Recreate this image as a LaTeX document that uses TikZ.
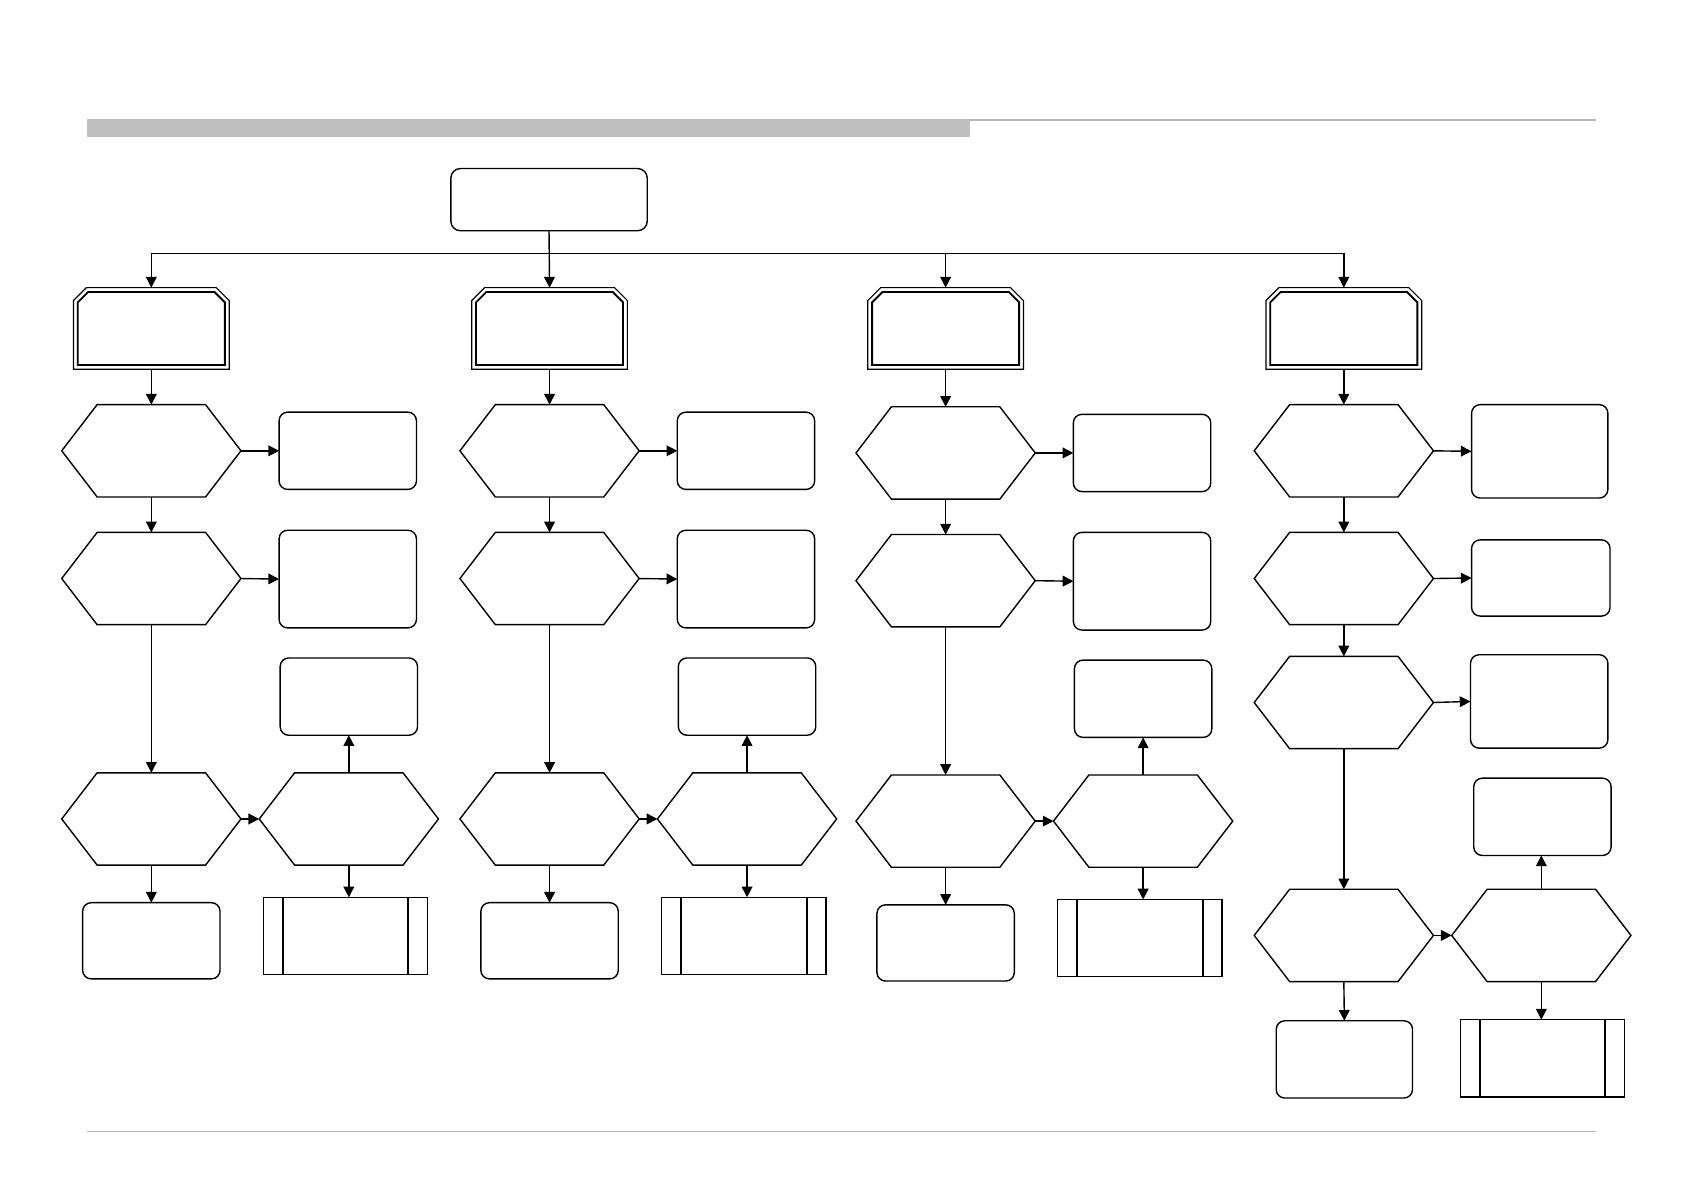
\documentclass[tikz,border=0pt]{standalone}
\usetikzlibrary{arrows.meta,calc}
\definecolor{bargray}{HTML}{C0C0C0}
\definecolor{rulegray}{HTML}{B8B8B8}
\tikzset{
 x=1pt, y=-1pt,
 base/.style={draw=none, inner sep=0pt, outer sep=0pt, shape=rectangle},
 ln/.style={line width=1.3pt, line join=miter},
 arr/.style={line width=1.3pt, -{Triangle[length=10pt,width=10pt]}},
 rbox/.style={draw, line width=1.3pt, rounded corners=8pt, inner sep=0pt, outer sep=0pt, minimum width=128pt, minimum height=72pt},
 ppbox/.style={draw, line width=1.2pt, inner sep=0pt, outer sep=0pt, minimum width=153pt, minimum height=72pt},
 ppline/.style={line width=1.8pt},
 octouter/.style={line width=1.1pt, line join=miter},
 octinner/.style={line width=1.7pt, line join=miter},
}
\newcommand\hexat[3]{%
 \node[base, minimum width=167pt, minimum height=86pt] (#1) at (#2,#3) {};
 \draw[ln] (#1.west) -- ([xshift=33pt]#1.north west) -- ([xshift=-33pt]#1.north east) -- (#1.east) -- ([xshift=-33pt]#1.south east) -- ([xshift=33pt]#1.south west) -- cycle;}
\newcommand\octat[3]{%
 \node[base, minimum width=145pt, minimum height=76pt] (#1) at (#2,#3) {};
 \draw[octouter] (#1.south west) -- ([yshift=-12pt]#1.north west) -- ([xshift=12pt]#1.north west) -- ([xshift=-12pt]#1.north east) -- ([yshift=-12pt]#1.north east) -- (#1.south east) -- cycle;
 \draw[octinner] ([shift={(4pt,4pt)}]#1.south west) -- ([shift={(4pt,-13.7pt)}]#1.north west) -- ([shift={(13.7pt,-4pt)}]#1.north west) -- ([shift={(-13.7pt,-4pt)}]#1.north east) -- ([shift={(-4pt,-13.7pt)}]#1.north east) -- ([shift={(-4pt,4pt)}]#1.south east) -- cycle;}
\newcommand\ppat[3]{%
 \node[ppbox] (#1) at (#2,#3) {};
 \draw[ppline] ([xshift=18pt]#1.north west) -- ([xshift=18pt]#1.south west);
 \draw[ppline] ([xshift=-18pt]#1.north east) -- ([xshift=-18pt]#1.south east);}
\newcommand\stdcol[3]{%
 \octat{#1oct}{#2}{306}
 \hexat{#1hA}{#2}{420+#3}
 \node[rbox] (#1rA) at (#2+183,420+#3) {};
 \hexat{#1hB}{#2}{539+#3}
 \node[rbox, minimum height=91pt] (#1rB) at (#2+183,539.5+#3) {};
 \node[rbox] (#1rC) at (#2+184,649+#3) {};
 \hexat{#1hC}{#2}{763+#3}
 \hexat{#1hD}{#2+184}{763+#3}
 \node[rbox, minimum height=71pt] (#1rD) at (#2,876.5+#3) {};
 \ppat{#1pp}{#2+181}{872+#3}
 \draw[arr] (#1oct.south) -- (#1hA.north);
 \draw[arr] (#1hA.east) -- (#1rA.west);
 \draw[arr] (#1hA.south) -- (#1hB.north);
 \draw[arr] (#1hB.east) -- (#1rB.west);
 \draw[arr] (#1hB.south) -- (#1hC.north);
 \draw[arr] (#1hC.east) -- (#1hD.west);
 \draw[arr] (#1hD.north) -- (#1hD.north |- #1rC.south);
 \draw[arr] (#1hC.south) -- (#1rD.north);
 \draw[arr] (#1hD.south) -- (#1hD.south |- #1pp.north);
}
\begin{document}
\begin{tikzpicture}
\useasboundingbox[fill=white] (0,0) rectangle (1568,1110);
% header and footer rules
\fill[bargray] (81,111) rectangle (904,128);
\draw[rulegray, line width=2pt] (904,111.5) -- (1487,111.5);
\draw[rulegray, line width=1.3pt] (81,1054) -- (1487,1054);
% top box and bus
\node[rbox, rounded corners=9pt, minimum width=183pt, minimum height=58pt] (top) at (511.5,186) {};
\coordinate (b1) at (141,236);
\coordinate (b3) at (881,236);
\coordinate (b4) at (1252,236);
\draw[ln] (b1) -- (b4);
% columns 1-3
\stdcol{a}{141}{0}
\stdcol{b}{512}{0}
\stdcol{c}{881}{2}
\draw[arr] (b1) -- (aoct.north);
\draw[arr] (top.south) -- (boct.north);
\draw[arr] (b3) -- (coct.north);
% column 4
\octat{doct}{1252}{306}
\hexat{dhA}{1252}{420}
\node[rbox, minimum width=127pt, minimum height=87pt] (drA) at (1434.5,420.5) {};
\hexat{dhB}{1252}{539}
\node[rbox, minimum width=129pt, minimum height=71pt] (drB) at (1435.5,538.5) {};
\hexat{dhC}{1252}{654.5}
\node[rbox, minimum height=87pt] (drC) at (1434,653.5) {};
\hexat{dhD}{1252}{871.5}
\hexat{dhE}{1436}{871.5}
\node[rbox] (drE) at (1437,761) {};
\node[rbox, minimum width=127pt] (drF) at (1252.5,987) {};
\ppat{dpp}{1437}{986}
\draw[arr] (b4) -- (doct.north);
\draw[arr] (doct.south) -- (dhA.north);
\draw[arr] (dhA.east) -- (drA.west);
\draw[arr] (dhA.south) -- (dhB.north);
\draw[arr] (dhB.east) -- (drB.west);
\draw[arr] (dhB.south) -- (dhC.north);
\draw[arr] (dhC.east) -- (drC.west);
\draw[arr] (dhC.south) -- (dhD.north);
\draw[arr] (dhD.east) -- (dhE.west);
\draw[arr] (dhE.north) -- (dhE.north |- drE.south);
\draw[arr] (dhD.south) -- (drF.north);
\draw[arr] (dhE.south) -- (dhE.south |- dpp.north);
\end{tikzpicture}
\end{document}
